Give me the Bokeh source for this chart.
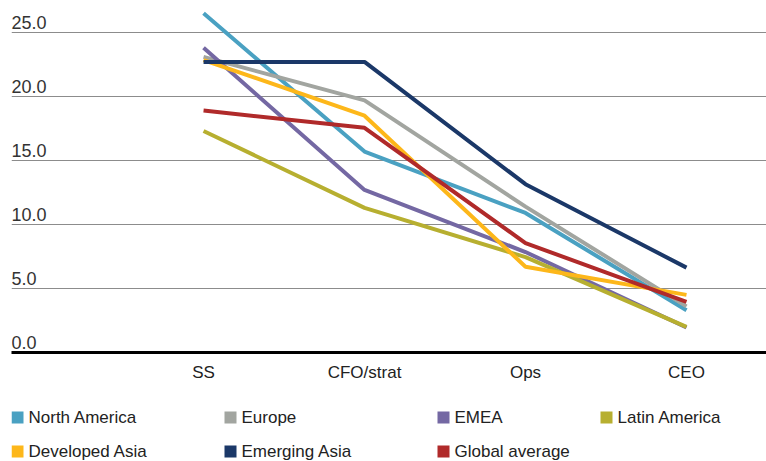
from bokeh.plotting import figure
from bokeh.layouts import column
from bokeh.models import Range1d, FixedTicker, ColumnDataSource
from bokeh.core.properties import value
from bokeh.embed import file_html
from bokeh.resources import INLINE

# Categories along the x axis
categories = ["SS", "CFO/strat", "Ops", "CEO"]

# Series values (share, %)
north_america = [26.5, 15.7, 10.9, 3.3]
europe = [23.1, 19.7, 11.4, 3.6]
emea = [23.8, 12.7, 7.85, 1.95]
latin_america = [17.3, 11.3, 7.45, 2.0]
developed_asia = [22.85, 18.5, 6.7, 4.5]
emerging_asia = [22.7, 22.7, 13.15, 6.63]
global_average = [18.9, 17.55, 8.55, 3.95]

series_names = ["North America", "Europe", "EMEA", "Latin America",
                "Developed Asia", "Emerging Asia", "Global average"]
series_values = [north_america, europe, emea, latin_america,
                 developed_asia, emerging_asia, global_average]
series_colors = ["#4aa1c2", "#a2a5a0", "#7468a3", "#b7af30",
                 "#fdb71a", "#1b3868", "#b02a2a"]

y_ticks = [0, 5, 10, 15, 20, 25]
y_tick_labels = ["0.0", "5.0", "10.0", "15.0", "20.0", "25.0"]

FONT = "Liberation Sans"

# ---- main line chart ----
x_pos = list(range(len(categories)))
p = figure(width=766, height=397, output_backend="svg", toolbar_location=None,
           x_range=Range1d(-1.193, 3.497), y_range=Range1d(0, 27.5),
           min_border_left=11, min_border_right=0, min_border_top=0,
           min_border_bottom=45)
p.outline_line_color = None
p.background_fill_color = "white"
p.border_fill_color = "white"

p.yaxis.visible = False
p.xgrid.visible = False
p.ygrid.ticker = FixedTicker(ticks=y_ticks[1:])
p.ygrid.grid_line_color = "#8c8c8c"
p.ygrid.grid_line_width = 1.2

p.xaxis.ticker = FixedTicker(ticks=x_pos)
p.xaxis.major_label_overrides = {i: c for i, c in enumerate(categories)}
p.xaxis.axis_line_color = "black"
p.xaxis.axis_line_width = 3
p.xaxis.major_tick_line_color = None
p.xaxis.minor_tick_line_color = None
p.xaxis.major_label_standoff = 4
p.xaxis.major_label_text_font = FONT
p.xaxis.major_label_text_font_size = "17px"
p.xaxis.major_label_text_color = "#222222"

# y tick labels sit just above their grid lines at the left edge
p.text(x=[-1.193] * len(y_ticks), y=y_ticks, text=y_tick_labels,
       text_font=value(FONT), text_font_size="18px", text_color="#333333",
       text_align="left", text_baseline="alphabetic", y_offset=-10)

for name, vals, color in zip(series_names, series_values, series_colors):
    src = ColumnDataSource(dict(x=x_pos, y=vals))
    p.line("x", "y", source=src, line_color=color, line_width=4)

# ---- legend strip (x range in page pixels) ----
leg = figure(width=766, height=64, output_backend="svg", toolbar_location=None,
             x_range=Range1d(11, 766), y_range=Range1d(64, 0),
             x_axis_type=None, y_axis_type=None,
             min_border_left=11, min_border_right=0, min_border_top=0,
             min_border_bottom=0)
leg.outline_line_color = None
leg.grid.visible = False

col_left = [11, 224, 437, 600]
row_mid = [20, 54]
lx, ly = [], []
for i in range(len(series_names)):
    lx.append(col_left[i % 4])
    ly.append(row_mid[i // 4])

leg_src = ColumnDataSource(dict(
    sx=[x + 6 for x in lx], tx=[x + 17 for x in lx], y=ly,
    name=series_names, color=series_colors))
leg.rect(x="sx", y="y", width=12, height=12, source=leg_src,
         fill_color="color", line_color=None)
leg.text(x="tx", y="y", text="name", source=leg_src,
         text_font=value(FONT), text_font_size="17px", text_color="#222222",
         text_align="left", text_baseline="middle")

layout = column(p, leg, spacing=0)

open("out.html", "w").write(file_html(layout, INLINE))
